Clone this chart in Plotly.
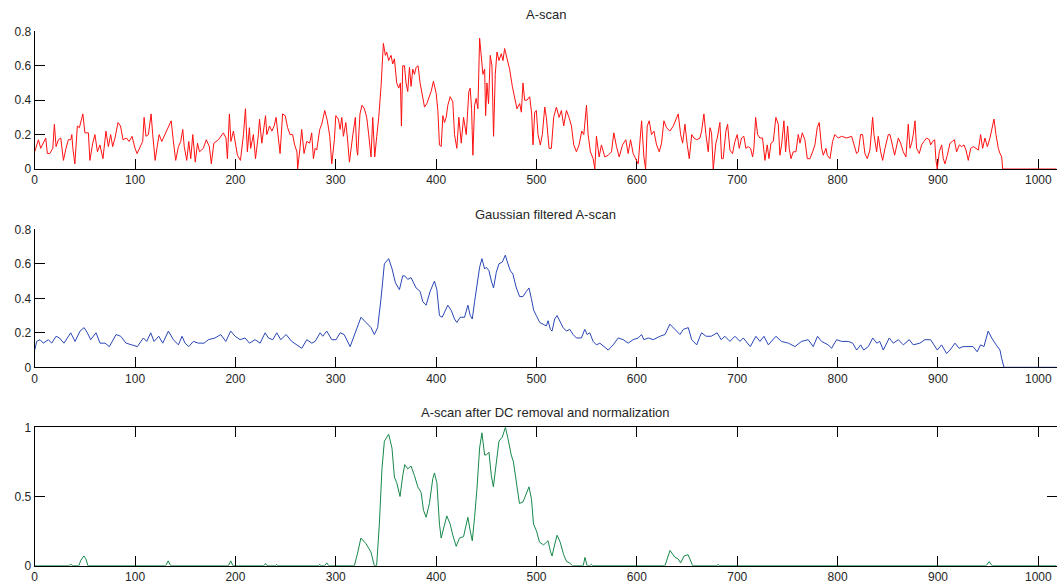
import plotly.graph_objects as go

# ---------------- data ----------------
raw_x = [0, 3.7, 6, 8.6, 11, 12.6, 15, 18, 19.6, 21.3, 23.6, 26, 28.6, 31.2, 33.5, 35.9, 37, 38, 40,
         42.5, 44.5, 48, 50, 53.5, 55, 57.8, 60, 62.5, 65, 68, 71, 73.4, 75.7, 77.7, 80, 83, 85.5, 88,
         91.4, 94, 97, 100, 102, 106, 107.6, 109, 110.9, 113.3, 116, 117.6, 120, 122.3, 124, 126.6,
         131.6, 136, 138, 140.5, 143.2, 145.5, 147.5, 149, 151.5, 153.5, 155.5, 157.5, 160, 162.2,
         164.2, 168, 171, 174, 176, 178.5, 183, 188, 190.6, 192, 194, 195.5, 198, 202, 205, 208, 210,
         211.9, 213.9, 215.2, 217.9, 220, 222.9, 224, 226.3, 228, 230, 231.3, 234, 236.3, 238.6, 240.5,
         243, 244.5, 247, 249.6, 252, 254.5, 257, 259, 261.3, 262, 264.5, 266, 268.4, 271, 274, 276,
         277.7, 279.4, 281, 284, 286, 289, 291.6, 294, 296, 298.6, 300, 302.6, 304.3, 306, 307.6, 310,
         311.6, 313.6, 317, 319.5, 320.8, 321.8, 324.1, 326.1, 328.5, 330.8, 332.8, 335.1, 336.8,
         338.8, 340.8, 342.8, 345.1, 347.4, 349.4, 350.7, 352.7, 355.1, 356.7, 358.4, 360.7, 362.7,
         364.4, 365.4, 366.7, 368.4, 370, 371.7, 373.4, 375, 376.7, 378.4, 380, 382, 384, 386, 388.4,
         390.7, 392.7, 395, 397.3, 400, 401.7, 403.3, 405, 406.7, 408.3, 410, 411.6, 414, 416.6,
         418.3, 420.6, 422.6, 425, 427.3, 430, 432.6, 433.9, 435.3, 436.6, 438.3, 439.9, 441.6, 443.3,
         444.9, 446.6, 448.3, 449.3, 450.6, 452.2, 453.9, 455.6, 457.2, 458.9, 460.6, 462.6, 464.9,
         466.6, 468.2, 470.5, 473.2, 475.9, 478.2, 480.5, 483.2, 484.9, 486.5, 488.2, 490.5, 493.2,
         495.2, 496.5, 498.2, 499.8, 501.5, 503.8, 505.8, 508.2, 509.8, 512.5, 514.8, 517.1, 519.8,
         522.5, 524.8, 527.1, 529.8, 532.4, 534.8, 537.1, 539.8, 542.4, 545.1, 547.1, 549.8, 551.4,
         553.7, 556.4, 558.1, 559.7, 562.4, 564.7, 568, 571.4, 574.7, 577, 579.7, 582.4, 585.7, 589,
         591.3, 593.7, 596.3, 599, 601.3, 604.7, 607, 608.7, 610.3, 612.3, 614.6, 617, 619.6, 622.3,
         624.6, 626.9, 629.6, 632.9, 636.3, 641.2, 643.6, 645.6, 647.9, 650.2, 652.2, 654.6, 656.9,
         659.6, 662.8, 664.5, 666.8, 668.8, 671.1, 672.8, 674.4, 676.1, 678.7, 680.1, 682.7, 684.4,
         686, 688.7, 690.4, 692.7, 695.3, 697.7, 700, 702, 704.3, 706.6, 708.6, 711, 713.3, 715.3,
         716.6, 718.3, 720.3, 722.6, 725.2, 727.6, 729.9, 731.6, 733.6, 735.9, 738.5, 740.9, 742.5,
         744.2, 746.5, 748.2, 750.2, 751.8, 753.5, 755.8, 758.5, 760.8, 762.5, 764.8, 767.4, 769.8,
         772.4, 775.1, 777.4, 779.7, 781.7, 784.1, 785.7, 788.4, 789.7, 792.4, 795, 797.3, 800.7, 804,
         809, 814, 817.3, 818.9, 820.6, 822.9, 824.9, 827.2, 829.6, 832.2, 834.9, 836.2, 838.9, 840.5,
         842.9, 844.9, 847.2, 850.5, 852.2, 854.8, 856.8, 860.5, 862.8, 865.4, 868.1, 870.4, 872.1,
         873.8, 875.4, 877.1, 878.7, 881.4, 883.7, 886, 888.7, 891.4, 892.7, 894.7, 896.7, 898, 899.3,
         901.3, 903.7, 905.3, 907, 909.3, 912, 914.3, 916.3, 918.6, 921.3, 923.6, 925.9, 927.9, 930.2,
         932.6, 935.2, 937.9, 940.2, 942.5, 944.5, 946.8, 949.2, 951.8, 953.5, 955.8, 957.8, 960.1,
         961.8, 963.5, 964.5, 1018]
raw_y = [0.10, 0.17, 0.12, 0.15, 0.18, 0.09, 0.09, 0.12, 0.26, 0.13, 0.17, 0.18, 0.05, 0.12, 0.17, 0.17, 0.20, 0.12, 0.03,
         0.25, 0.24, 0.32, 0.21, 0.21, 0.05, 0.15, 0.20, 0.10, 0.14, 0.06, 0.22, 0.13, 0.20, 0.13, 0.18, 0.27, 0.25, 0.17,
         0.18, 0.16, 0.19, 0.12, 0.09, 0.14, 0.16, 0.30, 0.19, 0.20, 0.32, 0.20, 0.05, 0.14, 0.20, 0.16,
         0.22, 0.28, 0.17, 0.05, 0.13, 0.16, 0.23, 0.13, 0.05, 0.16, 0.06, 0.20, 0.04, 0.15,
         0.10, 0.12, 0.17, 0.13, 0.03, 0.15, 0.17, 0.21, 0.18, 0.06, 0.32, 0.16, 0.22, 0.08, 0.05, 0.20, 0.35,
         0.10, 0.24, 0.12, 0.20, 0.06, 0.20, 0.29, 0.15, 0.23, 0.31, 0.20, 0.25, 0.22, 0.25, 0.30,
         0.17, 0.09, 0.32, 0.31, 0.24, 0.20, 0.20, 0.14, 0.10, 0.00, 0.13, 0.23, 0.09, 0.16, 0.15, 0.21,
         0.06, 0.12, 0.11, 0.23, 0.26, 0.34, 0.28, 0.19, 0.03, 0.17, 0.31, 0.29, 0.23, 0.30, 0.19, 0.27,
         0.18, 0.04, 0.20, 0.30, 0.12, 0.08, 0.32, 0.37, 0.35, 0.30, 0.20, 0.07, 0.30,
         0.07, 0.19, 0.30, 0.48, 0.73, 0.66, 0.68, 0.63, 0.66, 0.61, 0.64, 0.50, 0.47,
         0.50, 0.25, 0.60, 0.60, 0.50, 0.45, 0.59, 0.48, 0.58, 0.55, 0.59, 0.60, 0.50, 0.43, 0.36,
         0.38, 0.41, 0.45, 0.51, 0.44, 0.34, 0.14, 0.13, 0.31, 0.27, 0.30, 0.37, 0.42, 0.39,
         0.20, 0.12, 0.30, 0.15, 0.30, 0.20, 0.45, 0.47, 0.35, 0.08, 0.37, 0.41, 0.35, 0.76,
         0.63, 0.55, 0.58, 0.31, 0.50, 0.38, 0.66, 0.60, 0.19, 0.55, 0.68, 0.63, 0.67,
         0.63, 0.70, 0.65, 0.58, 0.48, 0.42, 0.35, 0.38, 0.33, 0.50, 0.40, 0.40, 0.42,
         0.32, 0.14, 0.33, 0.34, 0.20, 0.14, 0.20, 0.36, 0.30, 0.12, 0.12, 0.30, 0.36,
         0.30, 0.34, 0.25, 0.34, 0.30, 0.25, 0.14, 0.10, 0.14, 0.22, 0.20, 0.37, 0.20,
         0.10, 0.06, 0.00, 0.19, 0.07, 0.14, 0.07, 0.08, 0.10, 0.21, 0.13, 0.07, 0.14, 0.17,
         0.09, 0.17, 0.09, 0.06, 0.03, 0.28, 0.07, 0.00, 0.25, 0.28, 0.20, 0.22, 0.14, 0.10,
         0.15, 0.28, 0.24, 0.22, 0.25, 0.32, 0.20, 0.15, 0.26, 0.14, 0.06, 0.20, 0.18,
         0.17, 0.18, 0.22, 0.32, 0.20, 0.10, 0.24, 0.21, 0.00, 0.15, 0.18, 0.27, 0.06,
         0.06, 0.22, 0.26, 0.11, 0.09, 0.16, 0.20, 0.12, 0.18, 0.19, 0.12, 0.13, 0.12, 0.07,
         0.12, 0.30, 0.20, 0.18, 0.18, 0.05, 0.14, 0.06, 0.15, 0.16, 0.30, 0.26, 0.08,
         0.14, 0.28, 0.10, 0.25, 0.12, 0.06, 0.10, 0.10, 0.20, 0.15, 0.21, 0.17, 0.06,
         0.06, 0.10, 0.14, 0.24, 0.27, 0.12, 0.08, 0.12, 0.08, 0.06, 0.16, 0.20, 0.18, 0.19,
         0.18, 0.19, 0.13, 0.09, 0.10, 0.20, 0.20, 0.09, 0.06, 0.11, 0.30, 0.20, 0.10, 0.19,
         0.10, 0.05, 0.12, 0.20, 0.20, 0.13, 0.08, 0.18, 0.15, 0.10, 0.07, 0.26, 0.12,
         0.15, 0.20, 0.28, 0.12, 0.09, 0.14, 0.16, 0.18, 0.17, 0.14, 0.16, 0.17, 0.05, 0.00,
         0.10, 0.14, 0.06, 0.03, 0.08, 0.15, 0.16, 0.17, 0.10, 0.14, 0.13, 0.14, 0.11, 0.05,
         0.12, 0.13, 0.12, 0.11, 0.20, 0.12, 0.18, 0.13, 0.18, 0.22, 0.29, 0.20, 0.12,
         0.09, 0.07, 0.00, 0.00]

filt_x = [0, 2, 5.3, 8.6, 13.6, 16.9, 21.3, 24.6, 29.2, 35.9, 40.2, 45.2, 49.2, 52.5, 55.8, 61.1, 65.1,
          70.1, 74.4, 81.1, 85.7, 91, 96.7, 102.3, 108.3, 111.6, 115.6, 118.9, 123.6, 127.6, 133.2,
          138.2, 143.2, 146.8, 149.8, 153.5, 158.1, 163.1, 168.8, 173.1, 179.7, 185.4, 190.4, 195.3,
          199.7, 204.7, 209.6, 214, 219.6, 224.6, 229.6, 232.9, 237.2, 241.2, 245.2, 250.5, 256.1,
          260.5, 266.1, 271.1, 276.1, 279.4, 284.4, 287, 291, 296, 300.3, 304.3, 308.3, 314.3, 319.3,
          325.1, 330.1, 335.1, 338.4, 341.7, 345.1, 348.4, 352.7, 356.1, 359.4, 363.4, 366.7, 368.7,
          371.7, 375, 380, 384, 386.7, 390, 394, 398.3, 400.7, 403.3, 406, 408.3, 411.6, 415, 418.3,
          420.6, 424, 428.3, 431.6, 434, 436, 438.3, 440.6, 443.3, 445.6, 448.3, 450, 452.6, 455,
          457.2, 459.9, 462.6, 465.9, 468.9, 471.5, 473.9, 476.5, 479.9, 483.2, 486.5, 489.9, 492.5,
          494.8, 497.2, 499.8, 503.2, 506.5, 509.8, 511.5, 513.8, 515.5, 518.1, 520.5, 523.1, 526.5,
          529.8, 533.1, 536.4, 539.8, 544.7, 548.1, 550.4, 553.1, 556.4, 559.7, 563.1, 567.1, 571.4,
          576.4, 581.4, 586.4, 591.3, 596.3, 601.3, 604.7, 607, 611.3, 616.3, 623, 628, 632.9, 637.9,
          642.9, 646.3, 651.2, 654.6, 659.6, 662.9, 664.5, 669, 674, 680, 684, 687.7, 692.7, 697.7,
          702.7, 706, 713, 718.6, 722.6, 726.6, 731, 738.5, 744, 751, 757.5, 764, 770.7, 775.7, 780,
          784, 790.7, 794, 799, 804, 810.6, 815, 819, 823, 826, 830.6, 835, 839, 842, 845.5, 851.5,
          855.5, 860.5, 865.5, 871.4, 875.4, 882, 887, 892.7, 896, 899.3, 903.6, 908.6, 912, 917, 921,
          925, 935, 939, 942.5, 945.8, 950, 953.5, 958, 961.8, 963.5, 965.8, 1018]
filt_y = [0.10, 0.15, 0.16, 0.14, 0.16, 0.14, 0.18, 0.17, 0.14, 0.20, 0.15, 0.21, 0.23, 0.20, 0.16, 0.20, 0.14,
          0.14, 0.12, 0.19, 0.18, 0.14, 0.13, 0.12, 0.17, 0.15, 0.20, 0.15, 0.18, 0.14, 0.21,
          0.16, 0.13, 0.18, 0.14, 0.12, 0.15, 0.14, 0.14, 0.16, 0.17, 0.19, 0.15, 0.21,
          0.18, 0.16, 0.17, 0.14, 0.16, 0.14, 0.20, 0.17, 0.16, 0.20, 0.16, 0.19, 0.15,
          0.13, 0.11, 0.16, 0.14, 0.15, 0.20, 0.18, 0.21, 0.16, 0.16, 0.20, 0.19, 0.12, 0.20,
          0.29, 0.26, 0.23, 0.19, 0.23, 0.40, 0.60, 0.63, 0.57, 0.49, 0.45, 0.53, 0.53,
          0.51, 0.52, 0.46, 0.44, 0.38, 0.36, 0.44, 0.50, 0.45, 0.30, 0.29, 0.32, 0.36, 0.33, 0.28,
          0.26, 0.29, 0.29, 0.36, 0.30, 0.28, 0.38, 0.47, 0.58, 0.63, 0.57, 0.58, 0.56, 0.50,
          0.46, 0.55, 0.60, 0.61, 0.65, 0.60, 0.56, 0.54, 0.46, 0.41, 0.41, 0.44, 0.46,
          0.40, 0.33, 0.30, 0.26, 0.25, 0.24, 0.27, 0.22, 0.21, 0.28, 0.30, 0.27, 0.23,
          0.21, 0.22, 0.19, 0.17, 0.17, 0.22, 0.19, 0.20, 0.15, 0.13, 0.14, 0.12, 0.10,
          0.13, 0.17, 0.16, 0.14, 0.16, 0.17, 0.19, 0.16, 0.17, 0.16, 0.18, 0.19, 0.25, 0.22,
          0.19, 0.22, 0.23, 0.16, 0.13, 0.18, 0.20, 0.18, 0.18, 0.20, 0.16, 0.18, 0.15, 0.18,
          0.15, 0.17, 0.12, 0.18, 0.15, 0.18, 0.13, 0.18, 0.15, 0.14, 0.12, 0.15, 0.16, 0.12, 0.18,
          0.15, 0.13, 0.11, 0.16, 0.15, 0.15, 0.14, 0.10, 0.13, 0.10, 0.12, 0.17, 0.14, 0.15, 0.10, 0.17,
          0.14, 0.16, 0.13, 0.16, 0.13, 0.14, 0.16, 0.16, 0.13, 0.10, 0.13, 0.08, 0.10, 0.14, 0.11,
          0.12, 0.12, 0.09, 0.13, 0.12, 0.21, 0.17, 0.13, 0.10, 0.05, 0.00, 0.00]

norm_x = [0, 34, 36, 38, 44, 46, 49, 51, 53, 130.5, 133, 135.5, 193, 195.3, 197.5, 228.5, 230, 231.5,
          240, 241, 242, 283, 284, 285, 289, 291, 293, 304, 305, 306, 318.5, 322, 325, 330, 335, 338.4,
          340.7, 343.4, 346, 348.4, 352.7, 356, 358.4, 360.7, 364, 366.7, 368.7, 371.7, 375, 378.4,
          381.7, 385, 387.4, 390, 393.3, 396.7, 398.3, 400.7, 403.3, 405, 407.3, 410.6, 414, 416.6,
          420, 423.3, 427.3, 431.6, 434, 436, 438.3, 440.6, 443.3, 445.6, 448.3, 450, 452.6, 455, 457,
          460, 462.6, 466, 469, 471.5, 474.8, 477, 480, 483, 486.5, 490, 492.5, 495, 497, 500, 503,
          507, 511.5, 514, 515.5, 518, 520.5, 523.6, 527, 530, 533, 535.8, 546.5, 548.3, 550.4, 553,
          554.7, 556, 628, 633, 638, 641, 643.6, 647, 651, 655.6, 680, 681, 682, 948, 951, 954, 1018]
norm_y = [0, 0, 0.01, 0, 0, 0.04, 0.07, 0.05, 0, 0, 0.035, 0, 0, 0.035, 0, 0, 0.015, 0,
          0, 0.01, 0, 0, 0.01, 0, 0, 0.02, 0, 0, 0.005, 0, 0, 0.10, 0.20, 0.16, 0.10, 0,
          0, 0.30, 0.70, 0.90, 0.95, 0.85, 0.64, 0.60, 0.50, 0.65, 0.73, 0.70, 0.72, 0.65,
          0.57, 0.53, 0.40, 0.35, 0.45, 0.63, 0.67, 0.60, 0.30, 0.20, 0.27, 0.36, 0.30, 0.22,
          0.14, 0.20, 0.21, 0.35, 0.25, 0.18, 0.35, 0.55, 0.85, 0.96, 0.80, 0.80, 0.82, 0.65, 0.57,
          0.75, 0.90, 0.93, 1.00, 0.92, 0.80, 0.75, 0.60, 0.45, 0.46, 0.52, 0.57, 0.48, 0.30, 0.25, 0.17,
          0.15, 0.18, 0.10, 0.07, 0.15, 0.22, 0.17, 0.08, 0.03, 0.02, 0, 0, 0.06, 0, 0,
          0.01, 0, 0, 0.11, 0.06, 0.05, 0.02, 0.07, 0.08, 0, 0, 0.01, 0, 0, 0.03, 0, 0]

titles = ["A-scan", "Gaussian filtered A-scan", "A-scan after DC removal and normalization"]
x_ticks = [0, 100, 200, 300, 400, 500, 600, 700, 800, 900, 1000]
y_ticks_top = [0, 0.2, 0.4, 0.6, 0.8]
y_ticks_bottom = [0, 0.5, 1]

# ---------------- layout geometry ----------------
W, H = 1057, 587
X_LEFT = 34.7
X_RANGE = [0, 1018.6]
panels = [  # (bottom px, top px)
    (169.0, 31.3),
    (367.3, 229.3),
    (565.7, 427.3),
]
title_px = [14, 214, 412]

def py(p):
    return 1 - p / H

font = dict(family="Liberation Sans, Arial, sans-serif", size=12, color="#262626")
title_font = dict(family="Liberation Sans, Arial, sans-serif", size=13, color="#262626")

fig = go.Figure()
series = [(raw_x, raw_y, "#ff1010"), (filt_x, filt_y, "#2a46b6"), (norm_x, norm_y, "#16884a")]
for i, (xs, ys, col) in enumerate(series):
    sfx = "" if i == 0 else str(i + 1)
    fig.add_trace(go.Scatter(x=xs, y=ys, mode="lines", line=dict(color=col, width=1),
                             xaxis="x" + sfx, yaxis="y" + sfx, showlegend=False, hoverinfo="skip"))

layout = dict(width=W, height=H, margin=dict(l=0, r=0, t=0, b=0),
              paper_bgcolor="white", plot_bgcolor="white", font=font,
              template="none", showlegend=False)

for i, (bpx, tpx) in enumerate(panels):
    sfx = "" if i == 0 else str(i + 1)
    boxed = (i == 2)
    common = dict(showgrid=False, zeroline=False, showline=True, linecolor="black", linewidth=1,
                  ticks="inside", ticklen=10, tickwidth=1, tickcolor="black",
                  mirror="allticks" if boxed else False, automargin=False,
                  layer="above traces" if boxed else "below traces",
                  tickfont=font, fixedrange=True)
    layout["xaxis" + sfx] = dict(common, domain=[X_LEFT / W, 1.0], range=X_RANGE,
                                 tickmode="array", tickvals=x_ticks,
                                 ticktext=[str(v) for v in x_ticks],
                                 anchor="y" + sfx)
    yt = y_ticks_bottom if boxed else y_ticks_top
    layout["yaxis" + sfx] = dict(common, domain=[py(bpx), py(tpx)],
                                 range=[0, 1] if boxed else [0, 0.8],
                                 tickmode="array", tickvals=yt,
                                 ticktext=[("%g" % v) for v in yt],
                                 anchor="x" + sfx)

cx = (X_LEFT + W) / 2 / W
layout["annotations"] = [dict(text=t, x=cx, y=py(tp), xref="paper", yref="paper",
                              xanchor="center", yanchor="middle", showarrow=False, font=title_font)
                         for t, tp in zip(titles, title_px)]

fig.update_layout(**layout)
fig.write_html("out.html", config={"displayModeBar": False})
